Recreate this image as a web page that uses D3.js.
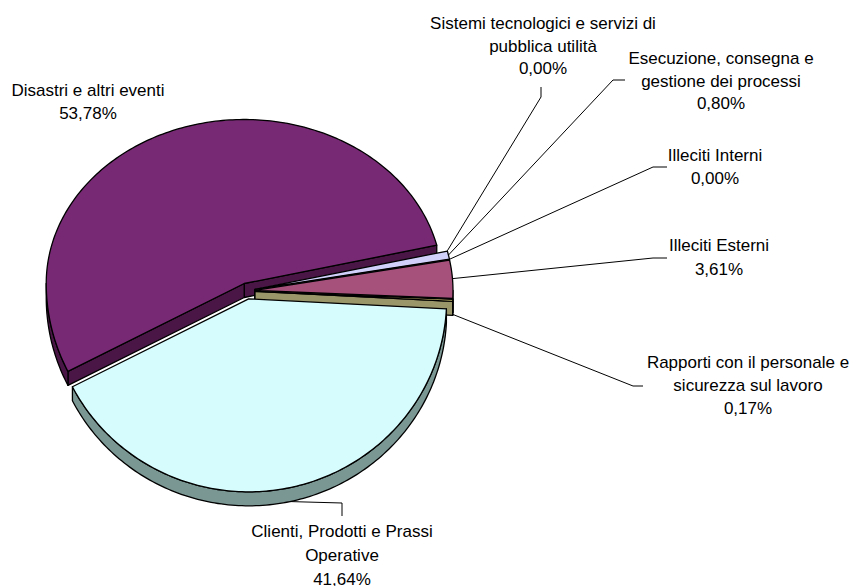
<!DOCTYPE html>
<html>
<head>
<meta charset="utf-8">
<script src="https://cdn.jsdelivr.net/npm/d3@7"></script>
<style>
  body { margin: 0; background: #fff; }
  svg { display: block; }
  .lbl { font-family: "Liberation Sans", Arial, sans-serif; font-size: 17px; fill: #000; }
</style>
</head>
<body>
<svg id="chart" width="852" height="586"></svg>
<script>
// Loss distribution by event type (percent of total)
const categories = [
  ["Sistemi tecnologici e servizi di", "pubblica utilità"],
  ["Esecuzione, consegna e", "gestione dei processi"],
  ["Illeciti Interni"],
  ["Illeciti Esterni"],
  ["Rapporti con il personale e", "sicurezza sul lavoro"],
  ["Clienti, Prodotti e Prassi", "Operative"],
  ["Disastri e altri eventi"]
];
const values = [0.00, 0.80, 0.00, 3.61, 0.17, 41.64, 53.78];

const topColors  = ["#9999ff", "#d0d0fa", "#ffffcc", "#a6507c", "#ddd27a", "#d6fcfe", "#772a73"];
const sideColors = ["#5c5c99", "#7a7aa6", "#999977", "#6a3350", "#9b9669", "#7a9794", "#4a1646"];

// Label placement: centre x, first baseline, leader knee and tail
const labelLayout = [
  { x: 543, y: 29,  lh: 22.5, knee: [541, 97],  tail: [541, 87] },
  { x: 721, y: 64,  lh: 22.5, knee: [613, 80],  tail: [625, 80] },
  { x: 715, y: 161, lh: 23,   knee: [653, 167], tail: [667, 167] },
  { x: 719, y: 251, lh: 23.5, knee: [653, 258], tail: [667, 258] },
  { x: 748, y: 368, lh: 23,   knee: [633, 386], tail: [643, 386] },
  { x: 342, y: 537, lh: 24,   knee: [342, 503], tail: [342, 516] },
  { x: 88,  y: 96,  lh: 22.5, knee: null, tail: null }
];

// 3D pie geometry
const cx = 247, cy = 291;      // centre of the unexploded pie
const rx = 198;                // horizontal radius
const ryBack = 164, ryFront = 193; // vertical radii (far half / near half)
const depth = 14;              // visible thickness
const explode = 8;             // radial offset of each slice

const svg = d3.select("#chart");
const locale = d3.formatLocale({ decimal: ",", thousands: ".", grouping: [3] });
const pct = v => locale.format(".2f")(v) + "%";

const pie = d3.pie().sort(null).value(d => d)
  .startAngle(76.5 * Math.PI / 180)
  .endAngle(76.5 * Math.PI / 180 + 2 * Math.PI);
const arcs = pie(values);

// Angle measured clockwise from 3 o'clock
const theta = a => a - Math.PI / 2;

function project(t, r, h, off) {
  const s = Math.sin(t);
  return [cx + off[0] + rx * r * Math.cos(t),
          cy + off[1] + (s < 0 ? ryBack : ryFront) * r * s + h];
}

const slices = arcs.map((a, i) => {
  const t0 = theta(a.startAngle), t1 = theta(a.endAngle);
  const tm = (t0 + t1) / 2;
  const off = [explode * Math.cos(tm), explode * Math.sin(tm)];
  return { i, t0, t1, tm, off, value: values[i] };
});

function arcPoints(t0, t1, h, off) {
  const n = Math.max(2, Math.ceil(Math.abs(t1 - t0) / (Math.PI / 180)) + 1);
  const pts = [];
  for (let k = 0; k < n; k++) {
    const t = t0 + (t1 - t0) * k / (n - 1);
    pts.push(project(t, 1, h, off));
  }
  return pts;
}

const line = d3.line();
const sideFaces = [];

slices.forEach(s => {
  if (s.value <= 0) return;
  // outer rim: visible where the rim faces the viewer (sin > 0)
  for (let base = -2 * Math.PI; base <= 2 * Math.PI; base += 2 * Math.PI) {
    const a = Math.max(s.t0, base), b = Math.min(s.t1, base + Math.PI);
    if (b > a) {
      const topPts = arcPoints(a, b, 0, s.off);
      const botPts = arcPoints(b, a, depth, s.off);
      const pts = topPts.concat(botPts);
      sideFaces.push({ pts, fill: sideColors[s.i], key: d3.mean(pts, p => p[1]) });
    }
  }
  // radial cut faces
  const apexT = project(0, 0, 0, s.off), apexB = project(0, 0, depth, s.off);
  if (Math.cos(s.t0) < 0) {
    const pT = project(s.t0, 1, 0, s.off), pB = project(s.t0, 1, depth, s.off);
    const pts = [apexT, pT, pB, apexB];
    sideFaces.push({ pts, fill: sideColors[s.i], key: d3.mean(pts, p => p[1]) });
  }
  if (Math.cos(s.t1) > 0) {
    const pT = project(s.t1, 1, 0, s.off), pB = project(s.t1, 1, depth, s.off);
    const pts = [apexT, pT, pB, apexB];
    sideFaces.push({ pts, fill: sideColors[s.i], key: d3.mean(pts, p => p[1]) });
  }
});

sideFaces.sort((a, b) => a.key - b.key);

const gPie = svg.append("g");
gPie.selectAll("path.side").data(sideFaces).join("path")
  .attr("class", "side")
  .attr("d", d => line(d.pts) + "Z")
  .attr("fill", d => d.fill)
  .attr("stroke", "#000")
  .attr("stroke-width", 1.3)
  .attr("stroke-linejoin", "round");

gPie.selectAll("path.top").data(slices.filter(s => s.value > 0)).join("path")
  .attr("class", "top")
  .attr("d", s => line([project(0, 0, 0, s.off)].concat(arcPoints(s.t0, s.t1, 0, s.off))) + "Z")
  .attr("fill", s => topColors[s.i])
  .attr("stroke", "#000")
  .attr("stroke-width", 1.3)
  .attr("stroke-linejoin", "round");

// Leader lines
const gLead = svg.append("g");
slices.forEach(s => {
  const L = labelLayout[s.i];
  if (!L.knee) return;
  const t = s.tm;
  const front = Math.sin(t) > 0.02;
  const anchor = project(t, 1, front ? depth : 0, s.off);
  gLead.append("path")
    .attr("d", line([anchor, L.knee, L.tail]))
    .attr("fill", "none")
    .attr("stroke", "#000")
    .attr("stroke-width", 1);
});

// Labels
const gLab = svg.append("g");
slices.forEach(s => {
  const L = labelLayout[s.i];
  const lines = categories[s.i].concat([pct(values[s.i])]);
  const txt = gLab.append("text").attr("class", "lbl").attr("text-anchor", "middle");
  lines.forEach((l, k) => {
    txt.append("tspan").attr("x", L.x).attr("y", L.y + k * L.lh).text(l);
  });
});
</script>
</body>
</html>
